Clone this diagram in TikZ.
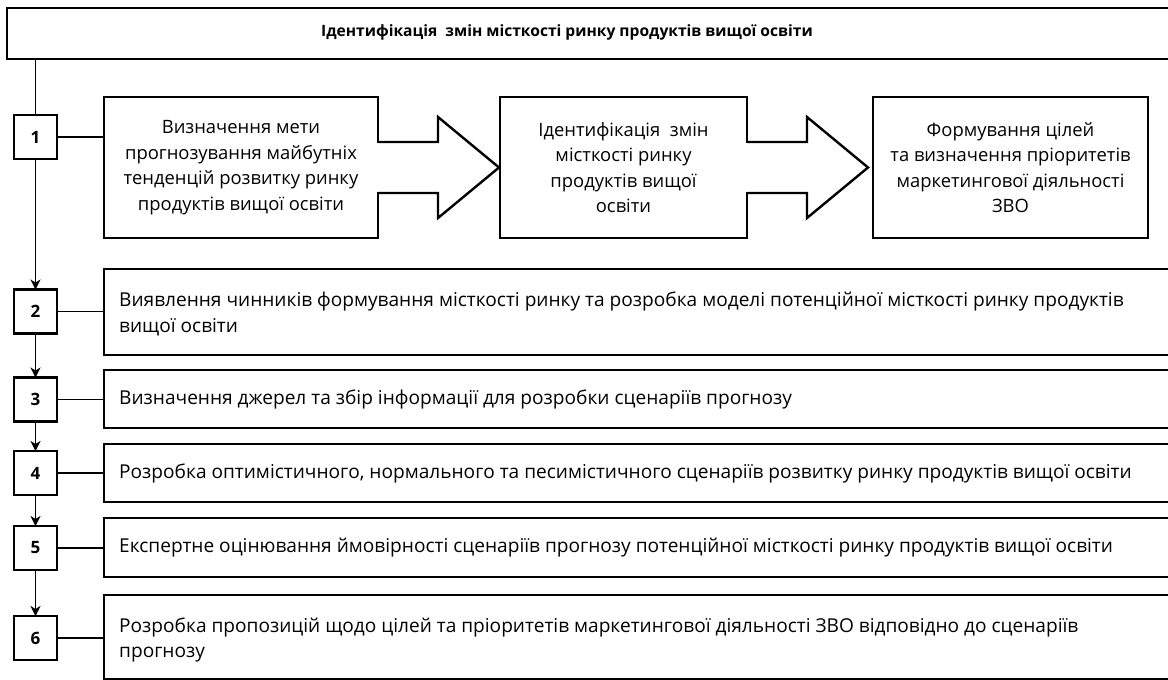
\documentclass[tikz,border=0pt]{standalone}
\usepackage{fontspec}
\setmainfont{Open Sans}
\usetikzlibrary{arrows.meta}
\begin{document}
\begin{tikzpicture}[x=1pt,y=-1pt,
  frame/.style={inner sep=0pt,outer sep=0pt},
  border/.style={line width=2.4pt,line join=miter},
  box/.style={draw,line width=2.4pt,inner sep=0pt,outer sep=0pt},
  num/.style={draw,line width=2.4pt,minimum width=43pt,minimum height=44pt,inner sep=0pt,outer sep=0pt,font=\bfseries\fontsize{17}{20}\selectfont},
  link/.style={line width=1.8pt},
  flow/.style={line width=1.8pt,-{Stealth[length=10pt,width=10pt,inset=3pt]}},
  ctext/.style={font=\fontsize{18.4}{25.5}\selectfont,align=center},
  rtext/.style={font=\fontsize{19.1}{25.5}\selectfont,align=left,anchor=west,inner sep=0pt},
  blockarrow/.style={draw,line width=2.4pt,line join=miter}]
\useasboundingbox (0,0) rectangle (1168,680);

% top frame
\node[frame,minimum width=1161pt,minimum height=51pt] (top) at (587.5,33.5) {};
\draw[border] (top.north east) -- (top.north west) -- (top.south west) -- (top.south east);
\node[font=\bfseries\fontsize{15.6}{18}\selectfont,inner sep=0pt] (title) at (567,32) {Ідентифікація\ \ змін місткості ринку продуктів вищої освіти};

% number boxes
\node[num] (n1) at (35.5,137) {1};
\node[num] (n2) at (35.5,311.5) {2};
\node[num] (n3) at (35.5,399.5) {3};
\node[num] (n4) at (35.5,473) {4};
\node[num] (n5) at (35.5,548) {5};
\node[num] (n6) at (35.5,638) {6};

% step 1 boxes
\node[box,minimum width=274pt,minimum height=141pt,ctext] (b1) at (241,167.5)
  {Визначення мети\\прогнозування майбутніх\\тенденцій розвитку ринку\\продуктів вищої освіти};
\node[box,minimum width=247pt,minimum height=141pt,ctext] (b2) at (623.5,167.5)
  {Ідентифікація\ \ змін\\місткості ринку\\продуктів вищої\\освіти};
\node[box,minimum width=275pt,minimum height=141pt,ctext] (b3) at (1010.5,167.5)
  {Формування цілей\\та визначення пріоритетів\\маркетингової діяльності\\ЗВО};

% block arrows
\fill[white] (b1.east) ++(-1.8,-24.3) rectangle ++(3.6,48.6);
\draw[blockarrow] (b1.east) ++(0,-25.5) -- ++(60,0) -- ++(0,-25) -- ++(61,50.5) -- ++(-61,50.5) -- ++(0,-25) -- ++(-60,0);
\fill[white] (b2.east) ++(-1.8,-24.3) rectangle ++(3.6,48.6);
\draw[blockarrow] (b2.east) ++(0,-25.5) -- ++(60,0) -- ++(0,-25) -- ++(61,50.5) -- ++(-61,50.5) -- ++(0,-25) -- ++(-60,0);

% row frames (open to the right)
\node[frame,minimum width=1064pt,minimum height=86pt] (r2) at (636,312) {};
\node[frame,minimum width=1064pt,minimum height=58pt] (r3) at (636,399) {};
\node[frame,minimum width=1064pt,minimum height=58pt] (r4) at (636,473) {};
\node[frame,minimum width=1064pt,minimum height=59pt] (r5) at (636,547.5) {};
\node[frame,minimum width=1064pt,minimum height=84pt] (r6) at (636,637) {};
\foreach \r in {r2,r3,r4,r5,r6}
  \draw[border] (\r.north east) -- (\r.north west) -- (\r.south west) -- (\r.south east);

% row texts
\node[rtext] (t2) at (119,314) {Виявлення чинників формування місткості ринку та розробка моделі потенційної місткості ринку продуктів\\вищої освіти};
\node[rtext] (t3) at (119,399) {Визначення джерел та збір інформації для розробки сценаріїв прогнозу};
\node[rtext] (t4) at (119,473) {Розробка оптимістичного, нормального та песимістичного сценаріїв розвитку ринку продуктів вищої освіти};
\node[rtext] (t5) at (119,548) {Експертне оцінювання ймовірності сценаріїв прогнозу потенційної місткості ринку продуктів вищої освіти};
\node[rtext] (t6) at (119,640) {Розробка пропозицій щодо цілей та пріоритетів маркетингової діяльності ЗВО відповідно до сценаріїв\\прогнозу};

% connectors
\draw[link] (top.south -| n1.north) -- (n1.north);
\draw[flow] (n1) -- (n2);
\draw[flow] (n2) -- (n3);
\draw[flow] (n3) -- (n4);
\draw[flow] (n4) -- (n5);
\draw[flow] (n5) -- (n6);
\draw[link] (n1.east) -- (n1.east -| b1.west);
\draw[link] (n2.east) -- (n2.east -| r2.west);
\draw[link] (n3.east) -- (n3.east -| r3.west);
\draw[link] (n4.east) -- (n4.east -| r4.west);
\draw[link] (n5.east) -- (n5.east -| r5.west);
\draw[link] (n6.east) -- (n6.east -| r6.west);
\end{tikzpicture}
\end{document}
